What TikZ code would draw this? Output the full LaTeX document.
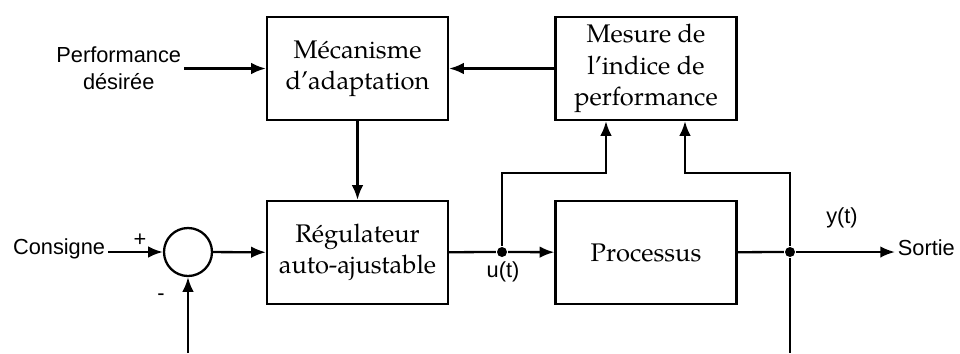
\documentclass[tikz,border=0pt]{standalone}
\usepackage{fontspec}
\setsansfont{Liberation Sans}
\newfontfamily\blocfont{texgyrepagella-regular.otf}
\usetikzlibrary{arrows.meta}

\tikzset{
	bloc/.style={draw, minimum width=3.62cm, minimum height=2.06cm, align=center,
		font=\blocfont\fontsize{14.5}{17.8}\selectfont},
	lbl/.style={font=\sffamily\fontsize{12.4}{15.3}\selectfont, inner sep=1pt},
	jonction/.style={circle, fill, inner sep=0pt, minimum size=0.2cm}
}

\begin{document}
\begin{tikzpicture}[x=0.02cm, y=-0.02cm, line width=1.3pt,
		>={Latex[length=8.4pt,width=6.6pt]}]
	\useasboundingbox (0,0) rectangle (960,353);

	% blocs
	\node[bloc] (meca) at (357.5,68.5) {Mécanisme\\d’adaptation};
	\node[bloc] (mesure) at (646,68.5) {Mesure de\\l’indice de\\performance};
	\node[bloc] (regul) at (357.5,252.5) {Régulateur\\auto-ajustable};
	\node[bloc] (proc) at (646,252.5) {Processus};
	\node[draw, circle, minimum size=0.96cm, inner sep=0pt] (som) at (188,252) {};

	% entrees / sorties
	\node[lbl, align=center, anchor=east] (perf) at (184,68.5) {Performance\\désirée};
	\node[lbl, anchor=base east] (cons) at (108,254) {Consigne};
	\node[lbl, anchor=base west] (sortie) at (895,255) {Sortie};
	\node[lbl] (plus) at (140,240) {+};
	\node[lbl] (moins) at (161,297) {-};
	\node[lbl] (ut) at (503,272) {u(t)};
	\node[lbl] (yt) at (842,218) {y(t)};

	\node[jonction] (u) at (502,252) {};
	\node[jonction] (y) at (790,252) {};
	\coordinate (c1) at (606,173);
	\coordinate (c2) at (685,173);
	\coordinate (fin1) at (790,353);
	\coordinate (fin2) at (188,353);

	% liaisons
	\draw[->] (perf.east) -- (meca.west);
	\draw[->] (mesure) -- (meca);
	\draw[->] (meca) -- (regul);
	\draw[->] (cons.east |- som) -- (som.west);
	\draw[->] (som) -- (regul);
	\draw (regul) -- (u);
	\draw[->] (u) -- (proc);
	\draw (proc) -- (y);
	\draw[->] (y) -- (sortie.west |- y);
	\draw[->] (u) |- (c1) -- (c1 |- mesure.south);
	\draw[->] (y) |- (c2) -- (c2 |- mesure.south);
	\draw (y) -- (fin1);
	\draw[->] (fin2) -- (som.south);
\end{tikzpicture}
\end{document}
